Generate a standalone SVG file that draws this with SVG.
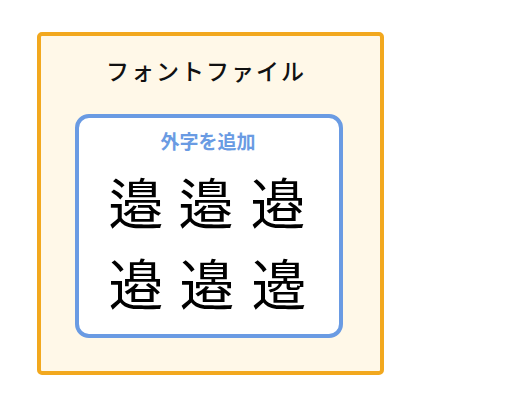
<svg xmlns="http://www.w3.org/2000/svg" width="518" height="406" viewBox="0 0 518 406">
<style>
.t{font-family:"Noto Sans CJK JP","Noto Sans CJK SC",sans-serif}
.g{font-family:"Noto Sans CJK JP",serif;font-size:55px;fill:#000;text-anchor:middle}
</style>
<rect width="518" height="406" fill="#fff"/>
<g id="font-file">
<rect x="39" y="34" width="343" height="339" rx="3" fill="#FFF8E8" stroke="#F2A81E" stroke-width="4"/>
<text class="t" x="206" y="80" font-size="23" font-weight="500" letter-spacing="2" text-anchor="middle" fill="#111">フォントファイル</text>
</g>
<g id="gaiji">
<rect x="77" y="116" width="264" height="220" rx="12" fill="#fff" stroke="#6A9BE3" stroke-width="4"/>
<text class="t" x="208" y="149" font-size="19" font-weight="bold" text-anchor="middle" fill="#6A9BE3">外字を追加</text>
<text class="g" x="136" y="224">邉󠄀</text>
<text class="g" x="206" y="224">邉󠄁</text>
<text class="g" x="278" y="224">邉󠄂</text>
<text class="g" x="136" y="305">邉󠄂</text>
<text class="g" x="207" y="305">邉󠄃</text>
<text class="g" x="279" y="305">邉󠄄</text>
</g>
</svg>
